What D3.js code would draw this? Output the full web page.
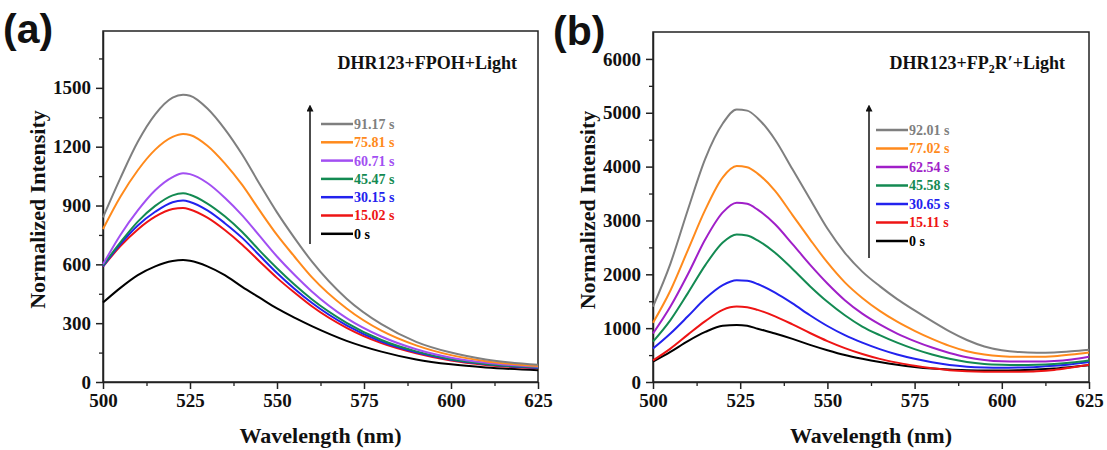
<!DOCTYPE html>
<html>
<head>
<meta charset="utf-8">
<script src="https://cdn.jsdelivr.net/npm/d3@7"></script>
<style>
  body { margin: 0; background: #fff; }
  svg { display: block; }
  svg text { font-family: "Times New Roman", "Liberation Serif", Tinos, Times, "DejaVu Serif", serif; }
  svg .tick text { font-family: "Times New Roman", "Liberation Serif", Tinos, Times, "DejaVu Serif", serif; font-weight: bold; font-size: 19px; fill: #111; }
  .axis-title { font-weight: bold; font-size: 22px; fill: #111; }
  .note { font-weight: bold; font-size: 18px; fill: #111; }
  .legend-label { font-weight: bold; font-size: 14px; }
  svg text.panel-tag { font-family: "Liberation Sans", Arial, sans-serif; font-weight: bold; font-size: 41px; fill: #111; }
</style>
</head>
<body>
<div id="chart"></div>
<script>
// panel (a): DHR123+FPOH+Light
const wavelengthA = [500, 505, 510, 515, 520, 523, 525, 530, 535, 540, 545, 550, 555, 560, 570, 580, 590, 600, 610, 625];
const labelsA = ["91.17 s", "75.81 s", "60.71 s", "45.47 s", "30.15 s", "15.02 s", "0 s"];
const a_9117 = [840, 1040, 1225, 1365, 1450, 1465, 1460, 1395, 1290, 1160, 1010, 865, 735, 615, 425, 295, 205, 150, 115, 88];
const a_7581 = [780, 945, 1080, 1185, 1250, 1265, 1260, 1205, 1115, 1005, 875, 750, 640, 535, 375, 262, 187, 137, 106, 82];
const a_6071 = [600, 750, 875, 978, 1045, 1065, 1060, 1015, 940, 850, 745, 640, 547, 462, 326, 232, 167, 124, 98, 78];
const a_4547 = [595, 712, 818, 898, 952, 962, 955, 910, 845, 765, 670, 580, 497, 422, 302, 214, 156, 116, 92, 74];
const a_3015 = [590, 703, 798, 868, 917, 925, 918, 875, 810, 735, 645, 556, 476, 404, 289, 206, 151, 113, 90, 72];
const a_1502 = [588, 693, 778, 843, 882, 887, 880, 838, 775, 700, 615, 531, 456, 386, 276, 198, 146, 109, 87, 70];
const a_0 = [405, 480, 545, 590, 617, 622, 618, 590, 545, 485, 430, 375, 328, 285, 210, 155, 115, 90, 74, 60];

// panel (b): DHR123+FP2R'+Light
const wavelengthB = [500, 505, 510, 515, 520, 524, 527, 530, 535, 540, 545, 550, 555, 560, 565, 570, 575, 580, 585, 590, 595, 600, 605, 610, 615, 620, 625];
const labelsB = ["92.01 s", "77.02 s", "62.54 s", "45.58 s", "30.65 s", "15.11 s", "0 s"];
const b_9201 = [1400, 2200, 3200, 4150, 4800, 5060, 5040, 4900, 4500, 3950, 3400, 2850, 2400, 2050, 1780, 1540, 1330, 1130, 940, 780, 660, 590, 555, 545, 550, 570, 600];
const b_7702 = [1100, 1700, 2450, 3200, 3800, 4010, 3990, 3870, 3550, 3100, 2650, 2220, 1850, 1560, 1320, 1120, 950, 800, 670, 570, 510, 480, 470, 470, 480, 510, 550];
const b_6254 = [900, 1400, 2000, 2650, 3150, 3330, 3310, 3200, 2930, 2560, 2180, 1830, 1520, 1270, 1070, 900, 760, 640, 540, 460, 410, 385, 380, 380, 390, 420, 470];
const b_4558 = [750, 1150, 1650, 2170, 2590, 2740, 2720, 2630, 2400, 2100, 1780, 1490, 1240, 1030, 870, 730, 610, 510, 430, 370, 335, 320, 315, 320, 335, 360, 400];
const b_3065 = [620, 900, 1220, 1550, 1800, 1890, 1880, 1820, 1660, 1460, 1240, 1040, 870, 730, 610, 510, 430, 365, 315, 285, 270, 265, 270, 280, 300, 330, 370];
const b_1511 = [400, 620, 880, 1130, 1340, 1400, 1390, 1340, 1220, 1070, 910, 760, 630, 520, 430, 360, 300, 255, 220, 200, 192, 190, 192, 200, 225, 270, 320];
const b_0 = [380, 560, 760, 930, 1045, 1060, 1045, 990, 900, 800, 690, 590, 500, 430, 370, 320, 280, 250, 230, 220, 215, 215, 220, 230, 250, 280, 310];

const xTicks = [500, 525, 550, 575, 600, 625];
const yTicksA = [0, 300, 600, 900, 1200, 1500];
const yTicksB = [0, 1000, 2000, 3000, 4000, 5000, 6000];

const colorsA = ["#7f7f7f", "#ff8a1c", "#a24ff2", "#138a52", "#2222ee", "#ee1414", "#000000"];
const colorsB = ["#7f7f7f", "#ff8a1c", "#a01fc8", "#138a52", "#2222ee", "#ee1414", "#000000"];

const width = 1107, height = 450;

const svg = d3.select("#chart")
    .append("svg")
    .attr("width", width)
    .attr("height", height);

svg.append("rect").attr("width", width).attr("height", height).attr("fill", "#fff");

svg.append("defs").append("marker")
    .attr("id", "arrowhead")
    .attr("viewBox", "0 0 10 10")
    .attr("refX", 5).attr("refY", 5)
    .attr("markerWidth", 7).attr("markerHeight", 7)
    .attr("markerUnits", "userSpaceOnUse")
    .attr("orient", "auto")
    .append("path")
    .attr("d", "M0,0 L10,5 L0,10 Z")
    .attr("fill", "#111");

function drawPanel(p) {
    const g = svg.append("g");

    const x = d3.scaleLinear().domain([500, 625]).range([p.left, p.right]);
    const y = d3.scaleLinear().domain([0, p.yMax]).range([p.bottom, p.top]);

    // frame
    g.append("rect")
        .attr("x", p.left).attr("y", p.top)
        .attr("width", p.right - p.left).attr("height", p.bottom - p.top)
        .attr("fill", "none").attr("stroke", "#222").attr("stroke-width", 1.5);

    // minor ticks
    const xMinor = d3.range(512.5, 625, 25);
    g.append("g")
        .attr("transform", `translate(0,${p.bottom})`)
        .call(d3.axisBottom(x).tickValues(xMinor).tickSize(4).tickFormat(""))
        .call(s => s.select(".domain").remove())
        .selectAll("line").attr("stroke", "#222").attr("stroke-width", 1.3);

    const yMinor = d3.range(p.yStep / 2, p.yMax - 1, p.yStep);
    g.append("g")
        .attr("transform", `translate(${p.left},0)`)
        .call(d3.axisLeft(y).tickValues(yMinor).tickSize(4).tickFormat(""))
        .call(s => s.select(".domain").remove())
        .selectAll("line").attr("stroke", "#222").attr("stroke-width", 1.3);

    // major axes
    const xAxis = g.append("g")
        .attr("transform", `translate(0,${p.bottom})`)
        .call(d3.axisBottom(x).tickValues(xTicks).tickSize(7).tickSizeOuter(0).tickPadding(5));
    xAxis.select(".domain").attr("stroke", "#222").attr("stroke-width", 1.5);
    xAxis.selectAll("line").attr("stroke", "#222").attr("stroke-width", 1.5);
    xAxis.selectAll("text").attr("fill", "#111");

    const yAxis = g.append("g")
        .attr("transform", `translate(${p.left},0)`)
        .call(d3.axisLeft(y).tickValues(p.yTicks).tickSize(7).tickSizeOuter(0).tickPadding(5).tickFormat(d3.format("d")));
    yAxis.select(".domain").attr("stroke", "#222").attr("stroke-width", 1.5);
    yAxis.selectAll("line").attr("stroke", "#222").attr("stroke-width", 1.5);
    yAxis.selectAll("text").attr("fill", "#111");

    // curves
    const line = d3.line()
        .x((d, i) => x(p.wl[i]))
        .y(d => y(d))
        .curve(d3.curveMonotoneX);

    // draw lowest first so the top traces sit above
    const order = d3.range(p.series.length).reverse();
    g.append("g")
        .selectAll("path")
        .data(order)
        .enter()
        .append("path")
        .attr("d", i => line(p.series[i]))
        .attr("fill", "none")
        .attr("stroke", i => p.colors[i])
        .attr("stroke-width", 2);

    // axis titles
    g.append("text")
        .attr("class", "axis-title")
        .attr("x", (p.left + p.right) / 2)
        .attr("y", 443)
        .attr("text-anchor", "middle")
        .text("Wavelength (nm)");

    g.append("text")
        .attr("class", "axis-title")
        .attr("transform", `translate(${p.yTitleX},${(p.top + p.bottom) / 2 + 3}) rotate(-90)`)
        .attr("text-anchor", "middle")
        .text("Normalized Intensity");

    // panel tag
    g.append("text")
        .attr("class", "panel-tag")
        .attr("x", p.tagX)
        .attr("y", p.tagY)
        .text(p.tag);

    // note
    const note = g.append("text")
        .attr("class", "note")
        .attr("x", p.right - p.noteGap)
        .attr("y", 69)
        .attr("text-anchor", "end");
    p.note(note);

    // legend
    const lg = g.append("g");
    lg.append("line")
        .attr("x1", p.arrowX).attr("x2", p.arrowX)
        .attr("y1", p.arrowBottom).attr("y2", p.arrowTop + 3)
        .attr("stroke", "#111").attr("stroke-width", 1.5)
        .attr("marker-end", "url(#arrowhead)");

    const rows = lg.selectAll("g.row")
        .data(p.labels)
        .enter()
        .append("g")
        .attr("class", "row")
        .attr("transform", (d, i) => `translate(${p.legX},${p.legY + i * p.legStep})`);
    rows.append("line")
        .attr("x1", 0).attr("x2", 32)
        .attr("stroke", (d, i) => p.colors[i])
        .attr("stroke-width", 2.5);
    rows.append("text")
        .attr("class", "legend-label")
        .attr("x", 33)
        .attr("dy", "0.35em")
        .attr("fill", (d, i) => p.colors[i])
        .text(d => d);
}

drawPanel({
    left: 103, right: 538, top: 31, bottom: 382,
    yMax: 1790, yStep: 300, yTicks: yTicksA,
    wl: wavelengthA,
    series: [a_9117, a_7581, a_6071, a_4547, a_3015, a_1502, a_0],
    colors: colorsA, labels: labelsA,
    yTitleX: 45, tag: "(a)", tagX: 3, tagY: 43, noteGap: 21,
    note: t => t.text("DHR123+FPOH+Light"),
    arrowX: 310, arrowTop: 105, arrowBottom: 244,
    legX: 321, legY: 124, legStep: 18.3
});

drawPanel({
    left: 653, right: 1089, top: 32, bottom: 382,
    yMax: 6500, yStep: 1000, yTicks: yTicksB,
    wl: wavelengthB,
    series: [b_9201, b_7702, b_6254, b_4558, b_3065, b_1511, b_0],
    colors: colorsB, labels: labelsB,
    yTitleX: 595, tag: "(b)", tagX: 553, tagY: 45, noteGap: 24,
    note: t => {
        t.append("tspan").text("DHR123+FP");
        t.append("tspan").attr("font-size", "12px").attr("dy", 4).text("2");
        t.append("tspan").attr("dy", -4).text("R\u2032+Light");
    },
    arrowX: 869, arrowTop: 105, arrowBottom: 258,
    legX: 876, legY: 130, legStep: 18.5
});
</script>
</body>
</html>
